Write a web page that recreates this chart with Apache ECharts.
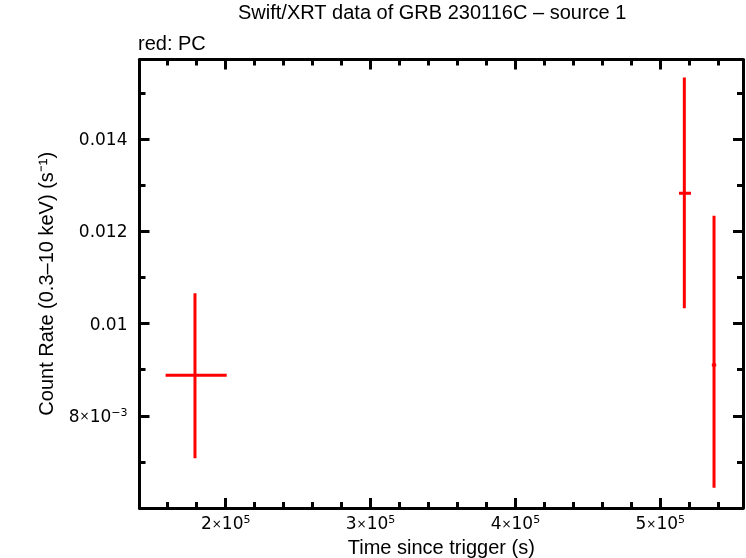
<!DOCTYPE html>
<html>
<head>
<meta charset="utf-8">
<script src="https://cdn.jsdelivr.net/npm/echarts@6/dist/echarts.min.js"></script>
<style>
  html, body { margin: 0; padding: 0; background: #fff; }
  #chart { width: 746px; height: 558px; }
</style>
</head>
<body>
<div id="chart"></div>
<script>
// data
var times = [178800, 516600, 537100];
var timeErrMinus = [20300, 3700, 1500];
var timeErrPlus = [21900, 4600, 1500];
var rates = [0.008882, 0.01283, 0.00910];
var rateErrMinus = [0.001800, 0.002495, 0.00266];
var rateErrPlus = [0.001777, 0.002510, 0.00324];

// ticks (labels in rich-text markup: n = normal, t = times sign, s = superscript)
var xMajorTicks = [200000, 300000, 400000, 500000];
var xTickLabels = ['{n|2}{t|×}{n|10}{s|5}', '{n|3}{t|×}{n|10}{s|5}', '{n|4}{t|×}{n|10}{s|5}', '{n|5}{t|×}{n|10}{s|5}'];
var xMinorTicks = [160000, 180000, 220000, 240000, 260000, 280000, 320000, 340000, 360000, 380000,
    420000, 440000, 460000, 480000, 520000, 540000];
var yMajorTicks = [0.008, 0.010, 0.012, 0.014];
var yTickLabels = ['{n|8}{t|×}{n|10}{s|−3}', '{n|0.01}', '{n|0.012}', '{n|0.014}'];
var yMinorTicks = [0.007, 0.009, 0.011, 0.013, 0.015];

var dom = document.getElementById('chart');
var myChart = echarts.init(dom, null, {renderer: 'canvas'});

var FONT = 'Liberation Sans';
var TICKFONT = 'DejaVu Sans';
var xMin = 140500, xMax = 557100;
var yMin = 0.006, yMax = 0.01573;

var pointData = [];
for (var i = 0; i < times.length; i++) {
    pointData.push([
        times[i], rates[i],
        times[i] - timeErrMinus[i], times[i] + timeErrPlus[i],
        rates[i] - rateErrMinus[i], rates[i] + rateErrPlus[i]
    ]);
}

function renderItem(params, api) {
    var xl = api.coord([api.value(2), api.value(1)]);
    var xh = api.coord([api.value(3), api.value(1)]);
    var yl = api.coord([api.value(0), api.value(4)]);
    var yh = api.coord([api.value(0), api.value(5)]);
    var style = {stroke: '#ff0000', lineWidth: 3};
    return {
        type: 'group',
        children: [
            {type: 'line', shape: {x1: xl[0], y1: xl[1], x2: xh[0], y2: xh[1]}, style: style},
            {type: 'line', shape: {x1: yl[0], y1: yl[1], x2: yh[0], y2: yh[1]}, style: style}
        ]
    };
}

var lineStyle = {color: '#000', width: 3};
var tickRich = {
    n: {fontFamily: TICKFONT, fontSize: 17, lineHeight: 20, color: '#000'},
    t: {fontFamily: TICKFONT, fontSize: 12, lineHeight: 20, color: '#000'},
    s: {fontFamily: TICKFONT, fontSize: 11, lineHeight: 15, verticalAlign: 'top', color: '#000'}
};

function xAxisDef(position, major, showLine, withLabels) {
    var ax = {
        type: 'value',
        position: position,
        min: xMin,
        max: xMax,
        splitLine: {show: false},
        axisLine: {show: showLine, onZero: false, lineStyle: lineStyle},
        axisTick: {
            show: true, inside: true,
            length: major ? 10 : 6,
            customValues: major ? xMajorTicks : xMinorTicks,
            lineStyle: {color: '#000', width: 3}
        },
        axisLabel: {show: false}
    };
    if (withLabels) {
        ax.axisLabel = {
            show: true,
            customValues: xMajorTicks,
            margin: 7,
            color: '#000',
            rich: tickRich,
            formatter: function (v) {
                return xTickLabels[xMajorTicks.indexOf(v)];
            }
        };
        ax.name = 'Time since trigger (s)';
        ax.nameLocation = 'middle';
        ax.nameGap = 23;
        ax.nameTextStyle = {color: '#000', fontFamily: FONT, fontSize: 20};
    }
    return ax;
}

function yAxisDef(position, major, showLine, withLabels) {
    var ax = {
        type: 'value',
        position: position,
        min: yMin,
        max: yMax,
        splitLine: {show: false},
        axisLine: {show: showLine, onZero: false, lineStyle: lineStyle},
        axisTick: {
            show: true, inside: true,
            length: major ? 10 : 6,
            customValues: major ? yMajorTicks : yMinorTicks,
            lineStyle: {color: '#000', width: 3}
        },
        axisLabel: {show: false}
    };
    if (withLabels) {
        ax.axisLabel = {
            show: true,
            customValues: yMajorTicks,
            margin: 12,
            padding: [3, 0, 0, 0],
            color: '#000',
            rich: tickRich,
            formatter: function (v) {
                for (var k = 0; k < yMajorTicks.length; k++) {
                    if (Math.abs(yMajorTicks[k] - v) < 1e-9) return yTickLabels[k];
                }
                return '';
            }
        };
        ax.name = 'Count Rate (0.3–10 keV) (s⁻¹)';
        ax.nameLocation = 'middle';
        ax.nameGap = 82;
        ax.nameTextStyle = {color: '#000', fontFamily: FONT, fontSize: 20};
    }
    return ax;
}

var option = {
    animation: false,
    backgroundColor: '#fff',
    title: [
        {
            text: 'Swift/XRT data of GRB 230116C – source 1',
            left: 238, top: 3, padding: 0,
            textStyle: {color: '#000', fontFamily: FONT, fontSize: 20, fontWeight: 'normal'}
        },
        {
            text: 'red: PC',
            left: 138, top: 34, padding: 0,
            textStyle: {color: '#000', fontFamily: FONT, fontSize: 20, fontWeight: 'normal'}
        }
    ],
    grid: {left: 139.5, right: 3, top: 59.5, bottom: 50, containLabel: false, outerBoundsMode: 'none'},
    xAxis: [
        xAxisDef('bottom', true, true, true),
        xAxisDef('bottom', false, false, false),
        xAxisDef('top', true, true, false),
        xAxisDef('top', false, false, false)
    ],
    yAxis: [
        yAxisDef('left', true, true, true),
        yAxisDef('left', false, false, false),
        yAxisDef('right', true, true, false),
        yAxisDef('right', false, false, false)
    ],
    series: [
        {
            type: 'custom',
            xAxisIndex: 0,
            yAxisIndex: 0,
            renderItem: renderItem,
            encode: {x: [0, 2, 3], y: [1, 4, 5]},
            data: pointData,
            clip: true
        }
    ]
};

myChart.setOption(option);
</script>
</body>
</html>
